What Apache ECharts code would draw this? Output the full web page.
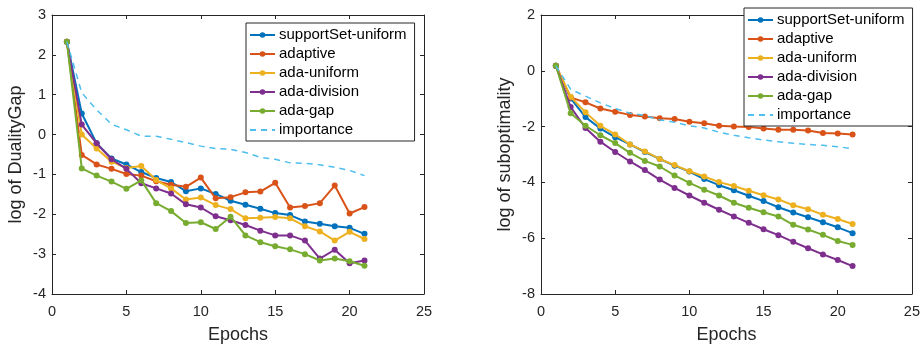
<!DOCTYPE html>
<html>
<head>
<meta charset="utf-8">
<script src="https://cdn.jsdelivr.net/npm/echarts@6/dist/echarts.min.js"></script>
<style>
html,body{margin:0;padding:0;background:#fff;}
#c{width:923px;height:349px;}
</style>
</head>
<body>
<div id="c"></div>
<script>
var epochs = [1,2,3,4,5,6,7,8,9,10,11,12,13,14,15,16,17,18,19,20,21];
var names = ['supportSet-uniform','adaptive','ada-uniform','ada-division','ada-gap','importance'];
var colors = ['#0072BD','#D95319','#EDB120','#7E2F8E','#77AC30','#4DBEEE'];

// Left: log of DualityGap
var gapSupport = [2.33,0.53,-0.22,-0.60,-0.75,-0.94,-1.09,-1.19,-1.42,-1.35,-1.49,-1.66,-1.76,-1.86,-1.97,-2.02,-2.18,-2.24,-2.30,-2.34,-2.49];
var gapAdaptive = [2.33,-0.51,-0.75,-0.86,-0.99,-1.03,-1.17,-1.26,-1.31,-1.08,-1.60,-1.57,-1.45,-1.43,-1.21,-1.83,-1.79,-1.72,-1.28,-1.98,-1.82];
var gapAdaUniform = [2.33,0.00,-0.35,-0.68,-0.84,-0.79,-1.14,-1.35,-1.63,-1.58,-1.77,-1.87,-2.10,-2.09,-2.07,-2.10,-2.30,-2.43,-2.66,-2.44,-2.62];
var gapAdaDivision = [2.33,0.25,-0.22,-0.62,-0.86,-1.22,-1.35,-1.48,-1.75,-1.83,-2.05,-2.15,-2.27,-2.41,-2.53,-2.53,-2.66,-3.11,-2.89,-3.23,-3.16];
var gapAdaGap = [2.33,-0.85,-1.03,-1.18,-1.36,-1.15,-1.72,-1.92,-2.22,-2.20,-2.37,-2.06,-2.53,-2.70,-2.80,-2.88,-3.00,-3.16,-3.11,-3.18,-3.29];
var gapImportance = [2.33,1.05,0.62,0.26,0.12,-0.04,-0.04,-0.12,-0.20,-0.29,-0.35,-0.37,-0.45,-0.57,-0.62,-0.71,-0.72,-0.76,-0.82,-0.90,-1.03];

// Right: log of suboptimality
var subSupport = [0.18,-0.99,-1.66,-2.07,-2.38,-2.64,-2.91,-3.16,-3.40,-3.61,-3.88,-4.10,-4.28,-4.48,-4.67,-4.89,-5.08,-5.25,-5.43,-5.61,-5.82];
var subAdaptive = [0.18,-0.96,-1.13,-1.35,-1.47,-1.58,-1.64,-1.70,-1.73,-1.83,-1.88,-1.97,-2.00,-2.01,-2.07,-2.11,-2.11,-2.14,-2.23,-2.25,-2.28];
var subAdaUniform = [0.18,-0.93,-1.49,-1.97,-2.28,-2.64,-2.89,-3.16,-3.38,-3.60,-3.79,-3.99,-4.13,-4.30,-4.46,-4.61,-4.82,-4.96,-5.16,-5.31,-5.49];
var subAdaDivision = [0.18,-1.30,-2.05,-2.54,-2.91,-3.25,-3.56,-3.90,-4.20,-4.47,-4.73,-4.98,-5.22,-5.45,-5.68,-5.89,-6.13,-6.36,-6.58,-6.78,-7.00];
var subAdaGap = [0.18,-1.52,-1.97,-2.31,-2.59,-2.94,-3.23,-3.43,-3.75,-4.02,-4.26,-4.47,-4.73,-4.91,-5.07,-5.22,-5.52,-5.69,-5.88,-6.10,-6.24];
var subImportance = [0.18,-0.66,-0.91,-1.15,-1.35,-1.52,-1.60,-1.76,-1.84,-1.97,-2.05,-2.20,-2.31,-2.40,-2.48,-2.54,-2.60,-2.64,-2.67,-2.72,-2.79];

var xTicks = [0,5,10,15,20,25];

var FONT = '"Liberation Sans", Arial, Helvetica, sans-serif';
var AX = '#262626';

function pairs(vals){ return epochs.map(function(e,i){ return [e, vals[i]]; }); }

function mkSeries(idx, vals, gi){
  var dashed = names[idx] === 'importance';
  return {
    name: names[idx], type: 'line', xAxisIndex: gi*2, yAxisIndex: gi*2,
    data: pairs(vals),
    symbol: dashed ? 'none' : 'circle', symbolSize: 6,
    showSymbol: !dashed,
    lineStyle: {color: colors[idx], width: dashed ? 1.5 : 2, type: dashed ? [6,5] : 'solid'},
    itemStyle: {color: colors[idx]},
    z: 2 + idx, animation: false
  };
}

function xAxes(gi){
  return [{
    type:'value', gridIndex: gi, min:0, max:25, interval:5, position:'bottom',
    name:'Epochs', nameLocation:'middle', nameGap:32,
    nameTextStyle:{fontFamily:FONT, fontSize:18, color:AX},
    axisLine:{show:true, onZero:false, lineStyle:{color:AX, width:1}},
    axisTick:{show:true, inside:true, length:4, lineStyle:{color:AX}},
    axisLabel:{fontFamily:FONT, fontSize:14.5, color:AX, margin:10},
    splitLine:{show:false}
  },{
    type:'value', gridIndex: gi, min:0, max:25, interval:5, position:'top',
    axisLine:{show:true, onZero:false, lineStyle:{color:AX, width:1}},
    axisTick:{show:true, inside:true, length:4, lineStyle:{color:AX}},
    axisLabel:{show:false}, splitLine:{show:false}
  }];
}
function yAxes(gi, mn, mx, iv, nm){
  return [{
    type:'value', gridIndex: gi, min:mn, max:mx, interval:iv, position:'left',
    name:nm, nameLocation:'middle', nameGap:27, nameRotate:90,
    nameTextStyle:{fontFamily:FONT, fontSize:18, color:AX},
    axisLine:{show:true, onZero:false, lineStyle:{color:AX, width:1}},
    axisTick:{show:true, inside:true, length:4, lineStyle:{color:AX}},
    axisLabel:{fontFamily:FONT, fontSize:14.5, color:AX, margin:6},
    splitLine:{show:false}
  },{
    type:'value', gridIndex: gi, min:mn, max:mx, interval:iv, position:'right',
    axisLine:{show:true, onZero:false, lineStyle:{color:AX, width:1}},
    axisTick:{show:true, inside:true, length:4, lineStyle:{color:AX}},
    axisLabel:{show:false}, splitLine:{show:false}
  }];
}

function mkLegend(left, top){
  var data = names.map(function(n){
    return n === 'importance' ? {name:n, itemStyle:{opacity:0}} : {name:n};
  });
  return {
    orient:'vertical', left:left, top:top, data:data,
    backgroundColor:'#fff', borderColor:AX, borderWidth:1, borderRadius:0,
    padding:[4,8,3,3], itemWidth:25, itemHeight:7, itemGap:3,
    textStyle:{fontFamily:FONT, fontSize:15, lineHeight:16, color:'#000', padding:[0,0,0,-1]},
    selectedMode:false
  };
}

var series = [];
[gapSupport,gapAdaptive,gapAdaUniform,gapAdaDivision,gapAdaGap,gapImportance].forEach(function(v,i){ series.push(mkSeries(i,v,0)); });
[subSupport,subAdaptive,subAdaUniform,subAdaDivision,subAdaGap,subImportance].forEach(function(v,i){ series.push(mkSeries(i,v,1)); });

var chart = echarts.init(document.getElementById('c'), null, {renderer:'canvas'});
chart.setOption({
  backgroundColor:'#fff',
  animation:false,
  grid:[{left:52, top:15, width:372, height:284},{left:541, top:15, width:372, height:284}],
  xAxis: xAxes(0).concat(xAxes(1)),
  yAxis: yAxes(0,-4,3,1,'log of DualityGap').concat(yAxes(1,-8,2,2,'log of suboptimality')),
  legend:[mkLegend(246,23), mkLegend(744,8)],
  series: series
});
</script>
</body>
</html>
